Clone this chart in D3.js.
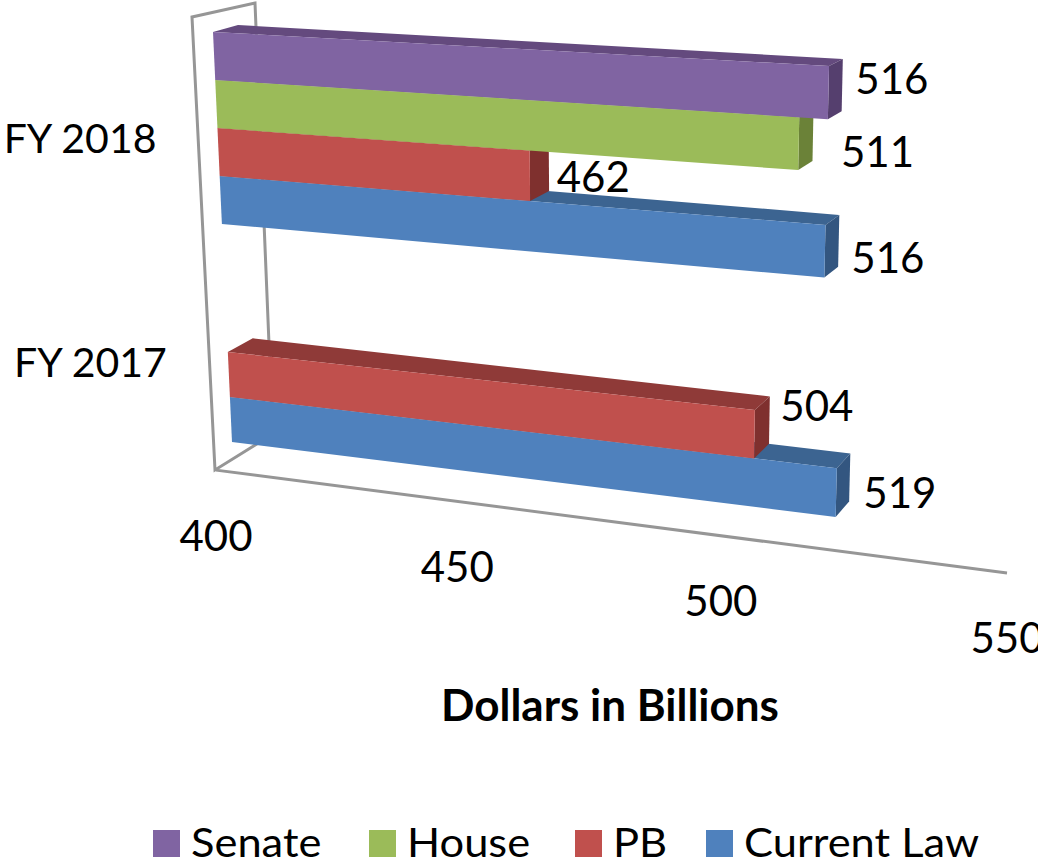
<!DOCTYPE html>
<html>
<head>
<meta charset="utf-8">
<script src="https://cdn.jsdelivr.net/npm/d3@7/dist/d3.min.js"></script>
<style>
html,body{margin:0;padding:0;background:#fff;overflow:hidden}
svg{display:block}
text{font-family:Lato,"Open Sans",sans-serif;fill:#000}
</style>
</head>
<body>
<svg id="chart" width="1038" height="865"></svg>
<script>
// ---- data ----
const categories = ["FY 2018", "FY 2017"];
const seriesNames = ["Senate", "House", "PB", "Current Law"];
const senateValues = [516, null];
const houseValues = [511, null];
const pbValues = [462, 504];
const currentLawValues = [516, 519];
const valueTicks = [400, 450, 500, 550];
const axisTitle = "Dollars in Billions";

// ---- styles ----
const faceColors = {
  "Senate": {front:"#8064A2", top:"#644A7E", side:"#553F6E"},
  "House": {front:"#9BBB59", top:"#7C9642", side:"#6B8238"},
  "PB": {front:"#C0504D", top:"#8F3A38", side:"#7F302E"},
  "Current Law": {front:"#4F81BD", top:"#3C6491", side:"#335680"}
};
// hand-placed data label nudges of the original, [dx from bar back corner, dy from bar mid]
const labelNudges = {
  "Senate|FY 2018":[12.5,1], "House|FY 2018":[27.5,23], "PB|FY 2018":[8,16],
  "Current Law|FY 2018":[12,22], "PB|FY 2017":[10.5,-13], "Current Law|FY 2017":[13,15]
};

const seriesValues = [senateValues, houseValues, pbValues, currentLawValues];
const svg = d3.select("#chart");

// ---- perspective scales ----
const tScale = d3.scaleLinear().domain([400, 550]).range([0, 1]);
const slotY = d3.scaleLinear().domain([0, 4, 6, 8]).range([32, 224, 352, 442]);
const sScale = d3.scaleLinear().domain([32, 442]).range([0, 1]);

function project(v, slot, back) {
  const y0 = slotY(slot), s = sScale(y0), t = tScale(v);
  const dx = t * (727 + 90 * t - 37.5 * s);
  const m = 0.0552 + 0.075 * s - 0.006 * s * s;
  let x = 213 + 19 * s + dx, y = y0 + dx * m;
  if (back) { x += 25 - 14.5 * t; y -= 7 + 8.5 * s; }
  return [x, y];
}
const floorX = v => { const t = tScale(v); return 216 + 690 * t + 101 * t * t; };
const floorY = v => 470 + 0.13 * (floorX(v) - 215);

const line = d3.line();
const closed = pts => line(pts) + "Z";

// ---- walls ----
const wallStroke = "#969696";
const wall = svg.append("g").attr("fill", "none").attr("stroke", wallStroke).attr("stroke-width", 3);
const corner = {lt:[192,17], rt:[255,3], lb:[215,470], rb:[272.7,434]};
wall.append("path").attr("d", line([corner.rb, corner.rt, corner.lt, corner.lb, corner.rb]));
wall.append("path").attr("d", line([[floorX(400), floorY(400)], [floorX(550), floorY(550)]]));

// ---- bars: back to front ----
const bars = [];
categories.forEach((cat, c) => {
  for (let i = seriesNames.length - 1; i >= 0; i--) {
    const v = seriesValues[i][c];
    if (v != null) bars.push({cat, c, name: seriesNames[i], i, v, slot: c * 4 + i});
  }
});
const barG = svg.append("g").selectAll("g").data(bars).join("g");
barG.append("path").attr("fill", d => faceColors[d.name].top)
  .attr("d", d => closed([project(400,d.slot,0), project(d.v,d.slot,0), project(d.v,d.slot,1), project(400,d.slot,1)]));
barG.append("path").attr("fill", d => faceColors[d.name].side)
  .attr("d", d => closed([project(d.v,d.slot,0), project(d.v,d.slot,1), project(d.v,d.slot+1,1), project(d.v,d.slot+1,0)]));
barG.append("path").attr("fill", d => faceColors[d.name].front)
  .attr("d", d => closed([project(400,d.slot,0), project(d.v,d.slot,0), project(d.v,d.slot+1,0), project(400,d.slot+1,0)]));

// ---- data labels ----
svg.append("g").selectAll("text").data(bars).join("text")
  .attr("font-size", 42)
  .attr("x", d => project(d.v, d.slot, 1)[0] + labelNudges[d.name + "|" + d.cat][0])
  .attr("y", d => (project(d.v, d.slot, 0)[1] + project(d.v, d.slot + 1, 0)[1]) / 2 + labelNudges[d.name + "|" + d.cat][1])
  .text(d => d.v);

// ---- category labels ----
svg.append("g").selectAll("text").data(categories).join("text")
  .attr("font-size", 41).attr("text-anchor", "end")
  .attr("x", (d, c) => project(400, c * 4 + 2, 0)[0] - 61)
  .attr("y", (d, c) => project(400, c * 4 + 2, 0)[1] + 25)
  .text(d => d);

// ---- value axis labels ----
svg.append("g").selectAll("text").data(valueTicks).join("text")
  .attr("font-size", 42).attr("text-anchor", "middle")
  .attr("x", d => floorX(d))
  .attr("y", d => floorY(d) + 80.5)
  .text(d => d);

svg.append("text").attr("x", 610).attr("y", 721).attr("text-anchor", "middle")
  .attr("font-size", 44).attr("font-weight", 700).text(axisTitle);

// ---- legend ----
const legendX = d3.scaleOrdinal().domain(seriesNames).range([153, 369, 575, 706]);
const legend = svg.append("g").selectAll("g").data(seriesNames).join("g")
  .attr("transform", d => `translate(${legendX(d)},830)`);
legend.append("rect").attr("width", 27).attr("height", 27).attr("fill", d => faceColors[d].front);
legend.append("text").attr("transform", "translate(38,27) scale(1.06,1)").attr("font-size", 41).text(d => d);
</script>
</body>
</html>
